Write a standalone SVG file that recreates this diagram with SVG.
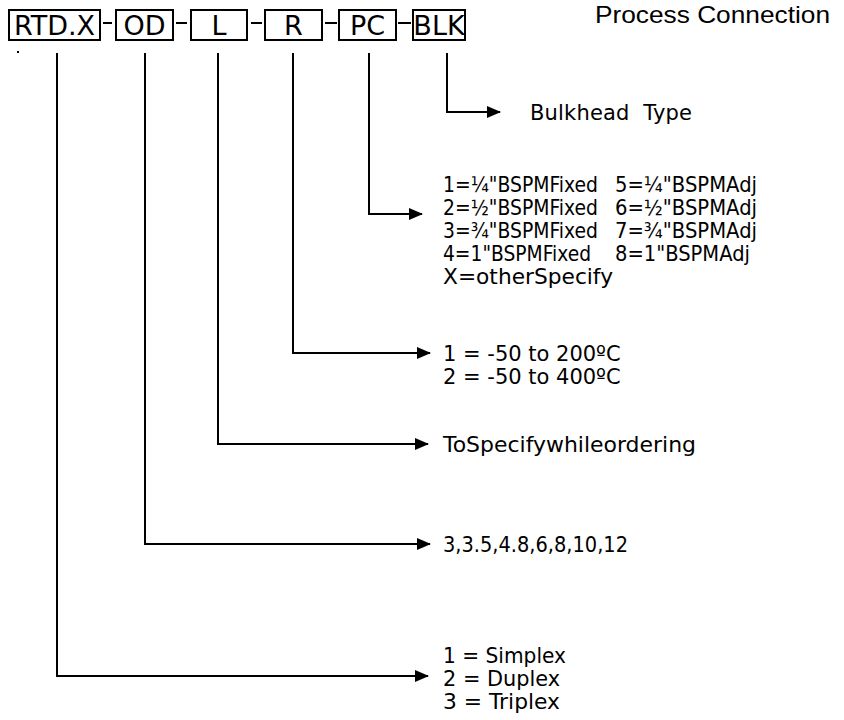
<svg xmlns="http://www.w3.org/2000/svg" width="844" height="720" viewBox="0 0 844 720">
<style>
.box{fill:none;stroke:#000;stroke-width:2}
.bt{font-family:"DejaVu Sans",Verdana,sans-serif;font-size:27px;fill:#000;text-anchor:middle}
.t{font-family:"DejaVu Sans",Verdana,sans-serif;font-size:21px;fill:#000}
.ln{fill:none;stroke:#000;stroke-width:2}
</style>
<defs>
<marker id="ah" markerWidth="14" markerHeight="12" refX="13" refY="6" orient="auto" markerUnits="userSpaceOnUse">
<path d="M0,0 L14,6 L0,12 Z" fill="#000"/>
</marker>
</defs>
<rect width="844" height="720" fill="#fff"/>
<text x="595" y="23" font-family="Liberation Sans,Arial,sans-serif" font-size="24" fill="#000" textLength="235" lengthAdjust="spacingAndGlyphs">Process Connection</text>
<g id="code">
<g id="n-rtdx"><rect class="box" x="9" y="10" width="91" height="30"/><text class="bt" x="54.5" y="35">RTD.X</text></g>
<g id="n-od"><rect class="box" x="116" y="10" width="57" height="30"/><text class="bt" x="144.5" y="35">OD</text></g>
<g id="n-l"><rect class="box" x="191" y="10" width="56" height="30"/><text class="bt" x="219" y="35">L</text></g>
<g id="n-r"><rect class="box" x="265" y="10" width="57" height="30"/><text class="bt" x="293.5" y="35">R</text></g>
<g id="n-pc"><rect class="box" x="339" y="10" width="57" height="30"/><text class="bt" x="367.5" y="35">PC</text></g>
<g id="n-blk"><rect class="box" x="413" y="10" width="52" height="30"/><text class="bt" x="439" y="35">BLK</text></g>
<g id="dashes" class="ln"><path d="M103,23H112M176,23H187M251,23H262M325,23H337M398,23H411"/></g>
</g>
<rect x="17" y="51" width="2" height="2" fill="#000"/>
<g id="connectors" class="ln">
<path d="M447,53V112H500" marker-end="url(#ah)"/>
<path d="M369,53V214H422" marker-end="url(#ah)"/>
<path d="M293,53V353H430" marker-end="url(#ah)"/>
<path d="M218,53V444H428" marker-end="url(#ah)"/>
<path d="M145,53V544H430" marker-end="url(#ah)"/>
<path d="M57,53V676H428" marker-end="url(#ah)"/>
</g>
<g id="labels">
<text class="t" x="530" y="120" textLength="162" xml:space="preserve">Bulkhead  Type</text>
<text class="t" x="443" y="192" textLength="155" lengthAdjust="spacingAndGlyphs">1=¼"BSPMFixed</text>
<text class="t" x="443" y="215" textLength="155" lengthAdjust="spacingAndGlyphs">2=½"BSPMFixed</text>
<text class="t" x="443" y="238" textLength="155" lengthAdjust="spacingAndGlyphs">3=¾"BSPMFixed</text>
<text class="t" x="443" y="261" textLength="148" lengthAdjust="spacingAndGlyphs">4=1"BSPMFixed</text>
<text class="t" x="443" y="284" textLength="170" lengthAdjust="spacingAndGlyphs">X=otherSpecify</text>
<text class="t" x="615" y="192" textLength="142" lengthAdjust="spacingAndGlyphs">5=¼"BSPMAdj</text>
<text class="t" x="615" y="215" textLength="142" lengthAdjust="spacingAndGlyphs">6=½"BSPMAdj</text>
<text class="t" x="615" y="238" textLength="142" lengthAdjust="spacingAndGlyphs">7=¾"BSPMAdj</text>
<text class="t" x="615" y="261" textLength="135" lengthAdjust="spacingAndGlyphs">8=1"BSPMAdj</text>
<text class="t" x="443" y="361">1 = -50 to 200ºC</text>
<text class="t" x="443" y="384">2 = -50 to 400ºC</text>
<text class="t" x="443" y="452" textLength="253" lengthAdjust="spacingAndGlyphs">ToSpecifywhileordering</text>
<text class="t" x="443" y="552" textLength="185" lengthAdjust="spacingAndGlyphs">3,3.5,4.8,6,8,10,12</text>
<text class="t" x="443" y="663" textLength="123" lengthAdjust="spacingAndGlyphs">1 = Simplex</text>
<text class="t" x="443" y="686" textLength="117" lengthAdjust="spacingAndGlyphs">2 = Duplex</text>
<text class="t" x="443" y="709" textLength="117" lengthAdjust="spacingAndGlyphs">3 = Triplex</text>
</g>
</svg>
